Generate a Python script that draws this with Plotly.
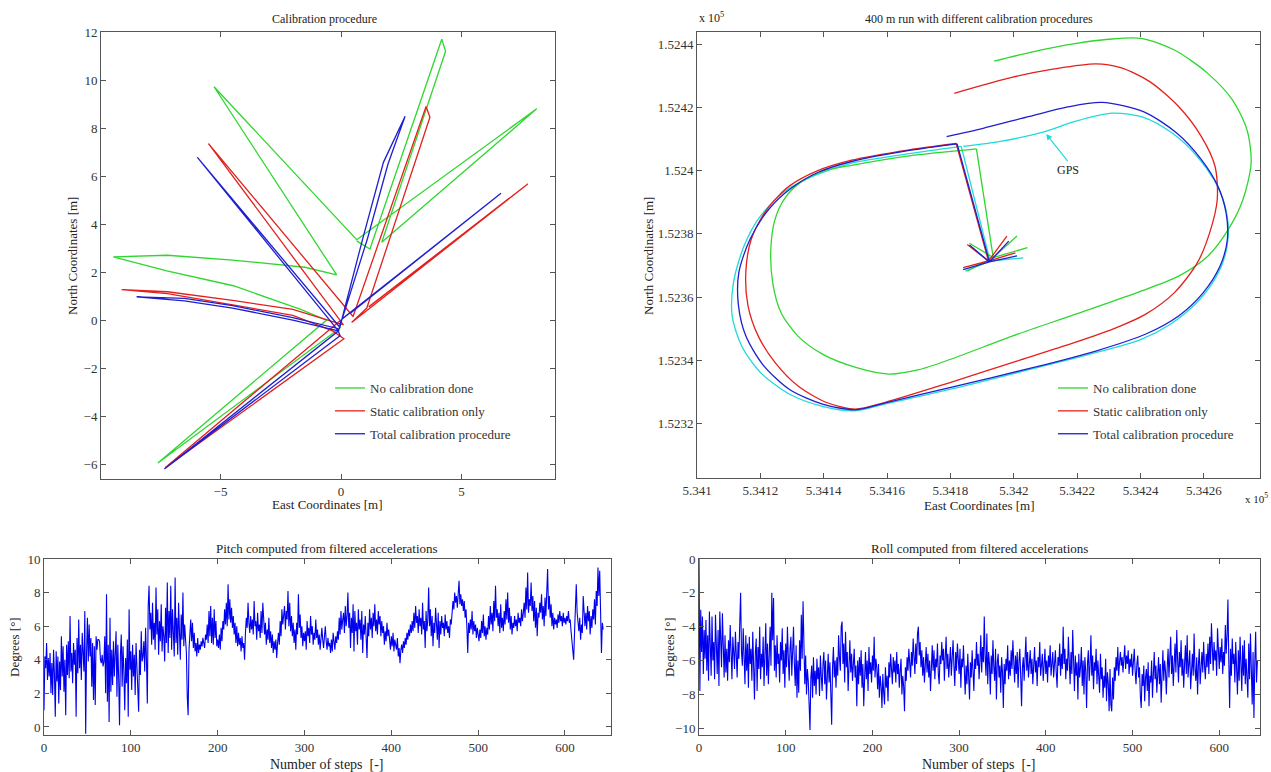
import plotly.graph_objects as go

W, H = 1271, 772
FONT = "Liberation Serif"
GREEN = "#2fd62f"
RED = "#e3201c"
BLUE = "#1f1fd0"
CYAN = "#1fdada"
TS_BLUE = "#0000ee"

# ---------------- Top-left: Calibration procedure (metres) ----------------
cal_green_e = [0.0, -7.6, -0.6, -1.7, -4.47, -7.23, -9.45, -7.2, -4.5, -1.5, -0.18,
               -5.27, 0.65, 8.12, 1.69, 4.34, 4.18, 1.2, 0.65]
cal_green_n = [-0.3, -5.95, 0.0, 0.46, 1.43, 2.05, 2.63, 2.7, 2.5, 2.2, 1.88,
               9.72, 3.35, 8.8, 3.24, 11.2, 11.7, 2.96, 3.3]

cal_red_e = [0.0, -7.3, 0.12, -0.35, -2.0, -4.5, -7.2, -9.1, -7.2, -4.5, -2.0, 0.1,
             -5.5, 0.5, 3.53, 3.69, 1.07, 0.44, 7.75, 1.15]
cal_red_n = [0.0, -6.15, -0.78, -0.45, 0.2, 0.62, 1.1, 1.27, 1.18, 0.82, 0.45, -0.2,
             7.35, 0.15, 8.9, 8.45, 0.5, -0.1, 5.67, 0.55]

cal_blue_e = [0.0, -0.1, -7.33, -0.04, -0.15, -2.0, -4.5, -6.5, -8.48, -6.5, -4.5,
              -2.0, -0.11, -5.96, -0.05, 0.93, 1.76, 2.66, 1.95, 1.1, 0.05, 6.64, 0.4]
cal_blue_n = [0.0, -0.45, -6.2, -0.65, -0.35, 0.1, 0.6, 0.9, 0.97, 0.8, 0.5,
              0.0, -0.45, 6.78, -0.3, 3.5, 6.57, 8.49, 6.5, 3.4, 0.05, 5.28, 0.3]

# ---------------- Top-right: 400 m run (East / North, metres) ----------------
# first 10 points: start-up star and the walk to the track; the rest: the lap
run_green_e = [534193.5, 534201.0, 534193.5, 534204.3, 534193.5, 534185.3, 534193.5,
               534186.0, 534193.5,
               534188.2, 534167.0, 534148.8, 534139.6, 534133.1, 534127.8, 534124.6,
               534123.3, 534123.9, 534126.5, 534131.8, 534139.6, 534150.1, 534160.5,
               534169.7, 534180.1, 534199.7, 534219.3, 534238.9, 534252.0, 534261.2,
               534267.7, 534272.3, 534274.9, 534273.6, 534269.0, 534261.2, 534250.7,
               534240.2, 534229.8, 534219.3, 534206.3, 534193.8]
run_green_n = [152372.5, 152379.3, 152372.5, 152375.6, 152372.5, 152368.2, 152372.5,
               152377.0, 152372.5,
               152406.9, 152404.7, 152401.7, 152399.8, 152396.6, 152391.4, 152384.5,
               152375.1, 152364.5, 152355.1, 152347.7, 152341.9, 152337.7, 152335.6,
               152336.9, 152340.3, 152347.7, 152354.5, 152361.4, 152366.6, 152372.9,
               152381.4, 152390.8, 152402.4, 152412.9, 152422.4, 152430.8, 152438.2,
               152441.9, 152441.6, 152440.2, 152437.7, 152434.7]

run_red_e = [534192.0, 534185.3, 534192.0, 534197.8, 534192.0, 534184.0, 534192.0,
             534200.5, 534192.0,
             534181.8, 534167.0, 534148.8, 534137.6, 534129.1, 534122.0, 534117.1,
             534115.4, 534116.1, 534119.3, 534124.6, 534131.8, 534140.9, 534150.1,
             534159.2, 534180.1, 534199.7, 534219.3, 534232.4, 534241.5, 534250.7,
             534257.9, 534261.8, 534264.2, 534263.5, 534259.2, 534252.0, 534242.9,
             534233.7, 534225.9, 534212.8, 534199.7, 534181.2]
run_red_n = [152371.4, 152376.6, 152371.4, 152379.3, 152371.4, 152369.3, 152371.4,
             152374.0, 152371.4,
             152408.6, 152406.6, 152403.3, 152399.8, 152395.1, 152387.7, 152378.2,
             152367.7, 152357.2, 152347.7, 152339.3, 152331.9, 152326.6, 152324.5,
             152326.6, 152333.0, 152339.3, 152345.6, 152350.3, 152354.5, 152361.4,
             152370.8, 152380.3, 152390.8, 152401.4, 152410.8, 152420.3, 152428.2,
             152432.6, 152433.8, 152432.2, 152429.6, 152424.5]

run_blue_e = [534192.3, 534198.4, 534192.3, 534201.0, 534192.3, 534184.0, 534192.3,
              534186.0, 534192.3,
              534182.1, 534167.0, 534148.8, 534138.3, 534129.8, 534122.6, 534116.7,
              534113.2, 534113.1, 534115.4, 534120.7, 534129.1, 534139.6, 534150.1,
              534159.2, 534180.1, 534206.3, 534225.9, 534241.5, 534252.0, 534259.8,
              534265.1, 534267.4, 534267.0, 534264.4, 534259.2, 534251.4, 534240.9,
              534227.8, 534216.7, 534205.0, 534190.6, 534178.8]
run_blue_n = [152371.1, 152377.7, 152371.1, 152373.0, 152371.1, 152368.7, 152371.1,
              152376.5, 152371.1,
              152408.5, 152406.4, 152402.9, 152399.5, 152394.5, 152387.7, 152378.2,
              152367.7, 152357.2, 152347.7, 152338.7, 152330.8, 152326.1, 152324.3,
              152326.4, 152331.4, 152337.7, 152342.9, 152348.2, 152354.0, 152361.4,
              152369.8, 152378.2, 152386.6, 152395.1, 152403.5, 152411.9, 152418.7,
              152421.6, 152420.1, 152417.2, 152413.5, 152410.8]
RUN_START = 9

# first 6 points: start-up star and walk to the track; the rest: the lap
gps_e = [534192.5, 534203.0, 534192.5, 534184.7, 534192.5, 534183.4, 534167.0,
         534148.8, 534137.0, 534127.8, 534120.0, 534114.8, 534111.5, 534111.1,
         534114.1, 534120.0, 534129.1, 534139.6, 534150.1, 534159.2, 534180.1,
         534206.3, 534225.9, 534240.2, 534249.4, 534257.2, 534263.1, 534266.6,
         534267.7, 534266.4, 534263.1, 534257.9, 534250.0, 534240.9, 534231.1,
         534219.3, 534208.9, 534195.8, 534184.0]
gps_n = [152371.4, 152372.4, 152371.4, 152368.2, 152371.4, 152407.7, 152405.4,
         152402.4, 152398.4, 152393.5, 152385.6, 152376.1, 152364.5, 152354.0,
         152344.5, 152336.1, 152329.3, 152325.4, 152324.0, 152326.1, 152330.8,
         152337.4, 152342.4, 152346.6, 152351.4, 152357.7, 152365.1, 152372.9,
         152381.4, 152389.8, 152397.2, 152404.5, 152411.9, 152416.9, 152418.2,
         152415.6, 152412.1, 152409.3, 152407.7]
GPS_START = 5

run_xtick_vals = [534100, 534120, 534140, 534160, 534180, 534200, 534220, 534240, 534260]
run_xtick_text = ["5.341", "5.3412", "5.3414", "5.3416", "5.3418", "5.342", "5.3422", "5.3424", "5.3426"]
run_ytick_vals = [152320, 152340, 152360, 152380, 152400, 152420, 152440]
run_ytick_text = ["1.5232", "1.5234", "1.5236", "1.5238", "1.524", "1.5242", "1.5244"]

# ---------------- Bottom: pitch and roll (degrees) per step ----------------
pitch = [
    1.0, 4.2, 3.5, 5.0, 2.8, 4.1, 3.0, 4.4, 2.0, 3.8,
    1.9, 4.6, 3.2, 0.6, 4.5, 2.7, 4.2, 1.4, 3.9, 2.2,
    5.4, 3.0, 4.8, 2.1, 4.0, 0.7, 4.9, 3.1, 5.1, 2.9,
    6.6, 3.3, 4.4, 2.6, 5.0, 3.7, 4.6, 0.6, 5.3, 3.2,
    6.4, 3.5, 4.9, 2.8, 5.6, 4.0, 3.3, 6.9, -0.4, 4.4,
    6.5, 3.9, 6.1, 4.2, 5.3, 2.4, 5.0, 1.6, 4.8, 1.3,
    5.4, 4.6, 5.2, 5.2, 5.1, 4.0, 3.8, 4.3, 3.6, 3.9,
    5.4, 2.0, 7.9, 1.5, 4.9, 0.3, 6.5, 2.1, 4.6, 2.5,
    5.1, 3.0, 4.4, 5.7, 1.8, 4.9, 2.9, 0.1, 4.3, 5.5,
    2.4, 4.8, 3.3, 1.0, 4.1, 2.6, 5.2, 0.6, 7.0, 3.4,
    4.5, 2.2, 4.9, 3.0, 4.3, 1.9, 5.0, 3.6, 2.7, 0.9,
    4.6, 3.1, 5.7, 3.9, 4.2, 5.1, 3.3, 5.9, 4.0, 1.4,
    7.2, 8.4, 5.8, 6.8, 4.9, 7.4, 5.2, 6.2, 4.6, 8.3,
    5.5, 7.0, 4.3, 6.3, 5.1, 7.3, 4.5, 6.0, 5.4, 3.9,
    7.1, 5.0, 8.6, 4.4, 6.9, 5.3, 8.4, 4.6, 7.0, 5.6,
    4.2, 8.9, 5.0, 6.5, 4.3, 7.4, 5.4, 4.0, 6.7, 5.2,
    8.0, 4.8, 6.1, 5.0, 4.4, 1.8, 0.7, 4.6, 5.9, 6.4,
    5.1, 6.2, 4.7, 5.6, 4.5, 5.0, 4.2, 5.3, 4.4, 4.9,
    4.6, 5.1, 4.8, 5.3, 5.0, 4.7, 5.5, 5.2, 6.1, 5.0,
    6.9, 5.4, 7.2, 5.0, 6.5, 4.9, 7.0, 5.3, 6.3, 4.8,
    5.2, 4.7, 5.5, 4.6, 5.9, 5.1, 6.3, 5.8, 7.0, 6.1,
    7.4, 6.0, 8.5, 6.4, 7.6, 6.2, 7.1, 5.9, 6.6, 5.5,
    6.2, 5.0, 6.0, 4.8, 5.6, 4.9, 5.3, 4.5, 5.4, 4.7,
    5.0, 4.0, 5.6, 6.5, 5.9, 7.4, 6.2, 5.6, 6.6, 5.8,
    6.4, 5.5, 7.5, 6.0, 6.3, 5.2, 6.8, 5.7, 6.1, 5.3,
    6.9, 5.6, 7.4, 6.0, 5.5, 6.2, 4.9, 5.8, 5.2, 6.5,
    5.0, 5.7, 4.7, 5.5, 4.4, 5.1, 4.6, 5.2, 4.1, 5.0,
    5.6, 4.9, 6.3, 5.4, 7.0, 6.1, 6.6, 7.2, 5.8, 6.9,
    6.4, 8.1, 6.0, 7.4, 5.7, 6.6, 5.4, 6.2, 5.0, 5.8,
    4.6, 6.2, 5.5, 7.9, 5.9, 6.7, 5.3, 6.0, 4.8, 5.6,
    5.1, 5.7, 4.6, 6.3, 5.4, 5.9, 5.0, 6.6, 5.5, 6.0,
    4.9, 5.6, 5.2, 6.4, 5.3, 5.8, 4.9, 5.5, 4.6, 5.1,
    5.9, 5.2, 4.7, 5.4, 6.0, 5.1, 4.6, 5.3, 4.8, 5.0,
    4.4, 5.2, 4.5, 5.6, 4.9, 4.6, 5.4, 5.0, 5.7, 5.2,
    6.5, 5.5, 6.9, 5.8, 6.4, 6.8, 5.6, 7.2, 6.0, 6.6,
    8.0, 5.9, 6.8, 4.7, 6.5, 5.6, 7.3, 4.5, 6.9, 5.7,
    6.2, 4.9, 7.0, 5.8, 6.4, 5.2, 6.9, 4.4, 6.1, 5.5,
    6.6, 5.0, 4.1, 6.2, 5.4, 7.0, 5.8, 6.5, 5.3, 6.8,
    6.0, 7.3, 5.7, 6.4, 5.5, 6.9, 6.1, 6.6, 5.4, 6.3,
    5.6, 6.0, 4.9, 5.7, 5.1, 6.2, 5.4, 5.8, 5.0, 4.6,
    5.4, 4.8, 5.6, 4.5, 5.2, 4.9, 4.6, 5.3, 4.2, 4.7,
    3.8, 4.6, 4.9, 4.4, 5.1, 4.7, 5.3, 4.9, 5.6, 5.2,
    5.8, 5.4, 6.1, 5.6, 6.3, 5.7, 6.8, 5.9, 7.2, 6.2,
    6.6, 5.6, 7.0, 6.0, 6.5, 5.5, 7.4, 5.8, 6.3, 4.7,
    6.9, 5.7, 6.4, 8.3, 6.0, 7.0, 5.4, 6.6, 4.8, 6.2,
    5.6, 7.1, 6.0, 5.2, 6.8, 4.7, 6.3, 5.5, 6.6, 5.9,
    6.2, 5.4, 6.7, 5.8, 6.3, 5.6, 6.0, 5.3, 6.4, 6.1,
    6.8, 7.5, 7.0, 8.0, 7.4, 7.8, 7.1, 8.3, 8.7, 7.3,
    7.9, 7.2, 7.6, 6.9, 7.5, 6.5, 7.0, 6.0, 4.4, 6.2,
    5.6, 6.4, 5.8, 6.9, 5.5, 6.3, 5.7, 6.1, 5.3, 5.9,
    5.5, 5.1, 5.8, 5.3, 6.3, 5.6, 6.7, 5.4, 6.0, 5.2,
    5.9, 5.5, 6.6, 5.8, 7.2, 6.1, 6.8, 5.7, 7.5, 6.3,
    8.4, 6.5, 7.0, 6.0, 6.8, 5.6, 7.3, 5.9, 6.5, 5.7,
    6.9, 6.1, 7.6, 6.4, 8.0, 6.2, 7.1, 5.8, 6.6, 5.5,
    6.2, 5.9, 6.6, 6.0, 6.4, 5.7, 6.8, 6.2, 6.5, 6.0,
    7.0, 6.3, 6.8, 7.4, 6.5, 8.3, 7.0, 9.2, 6.8, 7.6,
    7.2, 8.6, 6.9, 7.8, 6.3, 7.5, 5.9, 7.1, 5.4, 6.8,
    6.5, 7.4, 6.8, 7.9, 6.4, 7.2, 6.0, 7.7, 6.6, 8.2,
    9.4, 7.0, 7.8, 6.5, 7.3, 6.0, 6.8, 5.8, 6.5, 6.1,
    6.4, 5.9, 6.7, 6.2, 6.9, 6.3, 6.6, 6.0, 6.8, 6.2,
    6.5, 6.1, 6.6, 6.3, 6.9, 6.2, 6.4, 5.7, 5.0, 4.2,
    4.0, 5.6, 7.0, 8.5, 6.8, 6.2, 5.7, 6.5, 5.2, 6.1,
    5.6, 7.8, 6.4, 6.0, 6.8, 5.8, 7.2, 6.3, 6.9, 5.5,
    6.6, 5.9, 7.0, 6.4, 7.6, 6.1, 8.1, 7.2, 9.5, 7.8,
    9.3, 6.5, 4.4, 6.2, 5.8,
]

roll = [
    0.0, -7.8, -3.0, -5.5, -3.4, -6.8, -4.2, -5.9, -3.6, -6.6,
    -4.5, -7.2, -3.1, -5.8, -6.9, -3.4, -6.0, -4.9, -7.1, -3.3,
    -5.6, -6.8, -4.2, -7.5, -3.1, -5.9, -6.4, -3.2, -6.1, -7.0,
    -4.5, -6.7, -5.3, -7.2, -4.8, -6.1, -3.9, -5.4, -7.1, -4.6,
    -5.8, -6.5, -4.3, -5.6, -7.0, -4.9, -5.9, -3.8, -2.0, -5.5,
    -6.3, -4.1, -5.7, -7.4, -4.5, -6.6, -5.0, -7.6, -4.6, -6.2,
    -5.3, -7.2, -4.3, -6.0, -8.3, -5.5, -4.7, -7.8, -5.2, -6.5,
    -4.0, -7.1, -5.6, -6.4, -4.6, -7.5, -5.9, -3.8, -6.9, -5.0,
    -7.4, -5.5, -4.0, -6.3, -2.0, -4.8, -2.3, -6.6, -5.1, -7.0,
    -4.5, -6.2, -5.6, -7.3, -4.9, -6.0, -4.1, -6.8, -5.4, -7.6,
    -5.0, -6.4, -4.0, -5.8, -7.2, -5.3, -4.6, -6.9, -5.5, -4.0,
    -6.2, -7.5, -5.1, -8.2, -6.0, -7.9, -4.8, -6.6, -3.3, -5.9,
    -2.5, -6.1, -7.4, -5.7, -8.0, -6.5, -7.2, -8.6, -10.1, -7.0,
    -6.3, -8.2, -5.8, -7.5, -6.6, -8.0, -5.9, -7.1, -6.4, -8.1,
    -5.7, -6.9, -7.8, -6.2, -5.5, -7.4, -6.0, -8.3, -6.7, -5.6,
    -7.3, -6.1, -7.9, -9.8, -6.4, -5.2, -7.0, -6.0, -7.6, -5.8,
    -6.9, -4.5, -5.8, -6.6, -4.0, -3.7, -6.2, -5.0, -7.3, -4.3,
    -6.4, -5.5, -7.8, -5.9, -4.8, -6.7, -5.6, -7.2, -6.1, -5.3,
    -7.0, -6.3, -8.7, -6.0, -7.4, -5.8, -6.9, -5.4, -7.6, -6.2,
    -8.7, -6.5, -5.5, -7.1, -6.0, -7.8, -5.2, -6.8, -6.1, -7.3,
    -5.7, -6.6, -4.6, -7.0, -5.9, -6.4, -7.7, -6.2, -8.2, -6.9,
    -7.5, -8.8, -6.8, -7.9, -8.6, -6.4, -7.6, -6.9, -8.4, -6.1,
    -7.0, -5.6, -6.5, -7.4, -5.8, -6.7, -6.0, -7.3, -5.5, -6.8,
    -6.2, -7.6, -6.6, -5.9, -8.0, -6.9, -7.5, -9.0, -6.4, -7.2,
    -5.8, -6.6, -5.3, -6.1, -7.0, -5.5, -6.3, -4.7, -5.9, -6.8,
    -5.0, -6.2, -4.4, -4.0, -5.7, -4.9, -6.4, -5.4, -6.9, -5.8,
    -7.3, -6.1, -5.2, -6.7, -5.6, -7.0, -6.0, -7.8, -6.3, -5.1,
    -6.6, -5.4, -7.1, -5.9, -6.4, -5.0, -6.8, -7.4, -5.7, -6.2,
    -4.9, -6.0, -5.3, -7.2, -5.8, -4.6, -6.5, -5.6, -7.0, -6.1,
    -5.2, -6.9, -5.7, -4.8, -6.3, -7.5, -5.5, -6.6, -5.0, -6.2,
    -6.8, -5.3, -7.6, -5.9, -6.4, -5.1, -7.2, -8.0, -6.3, -7.4,
    -5.6, -6.9, -8.3, -6.1, -7.0, -5.4, -6.6, -7.8, -5.9, -6.5,
    -4.9, -6.3, -5.6, -7.1, -6.0, -4.5, -6.7, -5.2, -6.1, -3.4,
    -5.8, -6.9, -4.4, -7.4, -5.5, -6.2, -8.0, -5.7, -6.8, -4.8,
    -6.4, -7.2, -5.3, -8.3, -6.1, -5.6, -7.0, -6.3, -7.9, -5.8,
    -6.7, -8.8, -6.2, -7.4, -5.9, -6.6, -5.1, -7.1, -6.0, -6.9,
    -5.4, -6.5, -4.8, -6.2, -7.3, -5.7, -6.8, -5.5, -7.6, -6.1,
    -5.3, -6.9, -8.7, -6.4, -5.8, -7.2, -6.0, -4.6, -6.6, -5.5,
    -7.0, -6.2, -5.4, -6.8, -5.9, -7.4, -6.3, -5.2, -6.7, -6.0,
    -7.5, -5.8, -6.4, -4.9, -6.9, -6.1, -5.6, -7.2, -6.5, -5.3,
    -6.8, -6.0, -7.3, -5.7, -6.4, -5.1, -6.9, -6.2, -5.5, -7.0,
    -6.1, -5.4, -6.7, -7.6, -5.8, -6.3, -5.0, -6.9, -5.6, -6.5,
    -4.0, -6.2, -5.3, -7.1, -5.9, -6.6, -4.6, -6.0, -7.4, -5.5,
    -6.8, -4.2, -6.3, -7.8, -5.7, -6.9, -6.1, -8.3, -5.6, -7.0,
    -6.4, -5.2, -7.5, -6.0, -8.0, -5.8, -6.6, -8.8, -6.2, -5.4,
    -7.2, -6.3, -4.5, -6.9, -5.7, -7.7, -6.1, -6.6, -5.3, -7.4,
    -6.0, -6.8, -7.9, -5.6, -7.1, -6.4, -8.2, -6.9, -7.6, -5.9,
    -8.4, -6.7, -7.3, -9.0, -6.5, -8.6, -9.0, -7.0, -8.3, -6.4,
    -7.2, -5.8, -6.6, -5.2, -6.9, -6.1, -5.5, -6.3, -5.8, -6.7,
    -6.0, -5.1, -6.5, -5.7, -6.2, -5.4, -6.8, -5.9, -6.4, -5.6,
    -6.9, -6.1, -5.3, -6.6, -7.4, -6.2, -5.7, -7.0, -6.4, -8.1,
    -8.8, -6.8, -7.5, -6.3, -8.4, -7.0, -6.5, -7.8, -6.1, -8.7,
    -6.9, -7.3, -6.0, -8.2, -6.6, -5.5, -7.1, -6.3, -7.9, -6.8,
    -5.8, -7.4, -6.2, -8.5, -6.9, -5.4, -7.2, -6.0, -6.6, -8.0,
    -6.4, -5.3, -7.0, -6.1, -4.6, -6.8, -5.7, -7.5, -6.3, -5.0,
    -6.7, -4.2, -6.0, -7.3, -5.5, -6.4, -4.8, -6.9, -5.9, -7.6,
    -6.2, -5.1, -6.8, -4.5, -7.0, -6.1, -5.4, -7.7, -6.3, -5.6,
    -6.9, -4.4, -6.5, -7.2, -5.8, -8.0, -6.2, -5.3, -7.4, -6.0,
    -5.5, -6.7, -4.9, -6.3, -7.1, -5.6, -6.4, -5.0, -6.8, -4.6,
    -6.2, -3.8, -5.7, -6.6, -4.9, -6.0, -5.4, -6.9, -4.1, -5.8,
    -6.5, -5.2, -6.1, -4.7, -6.8, -5.5, -6.3, -3.9, -5.6, -4.5,
    -2.4, -6.0, -8.8, -5.3, -6.9, -4.7, -6.2, -5.6, -7.3, -4.9,
    -6.6, -8.0, -5.4, -7.2, -4.6, -6.5, -7.8, -5.1, -6.9, -4.8,
    -7.4, -5.9, -6.7, -8.2, -5.0, -7.1, -4.4, -6.3, -8.6, -5.5,
    -9.4, -6.1, -4.3, -7.3, -6.0,
]
pitch_steps = list(range(len(pitch)))
roll_steps = list(range(len(roll)))

LEGEND_NAMES = ["No calibration done", "Static calibration only", "Total calibration procedure"]

fig = go.Figure()

# Top-left traces
for i, (xs, ys, col) in enumerate([(cal_green_e, cal_green_n, GREEN),
                                   (cal_red_e, cal_red_n, RED),
                                   (cal_blue_e, cal_blue_n, BLUE)]):
    fig.add_trace(go.Scatter(x=xs, y=ys, mode="lines", line=dict(color=col, width=1.3),
                             name=LEGEND_NAMES[i], xaxis="x", yaxis="y",
                             legend="legend", legendgroup="a%d" % i))

# Top-right traces: start-up part straight, lap part smoothed
fig.add_trace(go.Scatter(x=gps_e[:GPS_START + 1], y=gps_n[:GPS_START + 1], mode="lines",
                         line=dict(color=CYAN, width=1.3), showlegend=False,
                         xaxis="x2", yaxis="y2"))
fig.add_trace(go.Scatter(x=gps_e[GPS_START:], y=gps_n[GPS_START:], mode="lines",
                         line=dict(color=CYAN, width=1.3, shape="spline", smoothing=0.8),
                         name="GPS", showlegend=False, xaxis="x2", yaxis="y2"))
for i, (xs, ys, col) in enumerate([(run_green_e, run_green_n, GREEN),
                                   (run_red_e, run_red_n, RED),
                                   (run_blue_e, run_blue_n, BLUE)]):
    fig.add_trace(go.Scatter(x=xs[:RUN_START + 1], y=ys[:RUN_START + 1], mode="lines",
                             line=dict(color=col, width=1.3), showlegend=False,
                             xaxis="x2", yaxis="y2", legendgroup="b%d" % i))
    fig.add_trace(go.Scatter(x=xs[RUN_START:], y=ys[RUN_START:], mode="lines",
                             line=dict(color=col, width=1.3, shape="spline", smoothing=0.8),
                             name=LEGEND_NAMES[i], xaxis="x2", yaxis="y2",
                             legend="legend2", legendgroup="b%d" % i))

# Bottom traces
fig.add_trace(go.Scatter(x=pitch_steps, y=pitch, mode="lines", line=dict(color=TS_BLUE, width=1.1),
                         showlegend=False, xaxis="x3", yaxis="y3"))
fig.add_trace(go.Scatter(x=roll_steps, y=roll, mode="lines", line=dict(color=TS_BLUE, width=1.1),
                         showlegend=False, xaxis="x4", yaxis="y4"))

tickfont = dict(family=FONT, size=13, color="#333")
base = dict(showline=True, linecolor="#555", linewidth=1, mirror="ticks", ticks="inside",
            ticklen=5, tickcolor="#555", showgrid=False, zeroline=False, tickfont=tickfont,
            fixedrange=True, automargin=False)

def px(xp):
    return xp / W

def py(yp):
    return 1 - yp / H

fig.update_layout(
    width=W, height=H, margin=dict(l=0, r=0, t=0, b=0, autoexpand=False),
    paper_bgcolor="white", plot_bgcolor="white",
    font=dict(family=FONT, size=12, color="#333"),
    xaxis=dict(base, domain=[px(101), px(555)], range=[-9.96, 8.88], anchor="y",
               tickvals=[-5, 0, 5]),
    yaxis=dict(base, domain=[py(479), py(32)], range=[-6.62, 12], anchor="x",
               tickvals=[-6, -4, -2, 0, 2, 4, 6, 8, 10, 12]),
    xaxis2=dict(base, domain=[px(697), px(1260)], range=[534100, 534277.7], anchor="y2",
                tickvals=run_xtick_vals, ticktext=run_xtick_text),
    yaxis2=dict(base, domain=[py(478), py(32)], range=[152302.7, 152443.9], anchor="x2",
                tickvals=run_ytick_vals, ticktext=run_ytick_text),
    xaxis3=dict(base, domain=[px(44), px(611)], range=[0, 653], anchor="y3",
                tickvals=[0, 100, 200, 300, 400, 500, 600]),
    yaxis3=dict(base, domain=[py(735), py(559)], range=[-0.48, 10], anchor="x3",
                tickvals=[0, 2, 4, 6, 8, 10]),
    xaxis4=dict(base, domain=[px(699), px(1260)], range=[0, 647], anchor="y4",
                tickvals=[0, 100, 200, 300, 400, 500, 600]),
    yaxis4=dict(base, domain=[py(735), py(559)], range=[-10.4, 0], anchor="x4",
                tickvals=[-10, -8, -6, -4, -2, 0]),
    legend=dict(x=px(330), y=py(373), xanchor="left", yanchor="top",
                bgcolor="rgba(0,0,0,0)", font=dict(family=FONT, size=13, color="#333"),
                traceorder="grouped", tracegroupgap=3, itemwidth=30),
    legend2=dict(x=px(1053), y=py(373), xanchor="left", yanchor="top",
                 bgcolor="rgba(0,0,0,0)", font=dict(family=FONT, size=13, color="#333"),
                 traceorder="grouped", tracegroupgap=3, itemwidth=30),
)

ann = []
def text(x, y, s, size=12, angle=0, xanchor="center", yanchor="middle"):
    ann.append(dict(x=px(x), y=py(y), xref="paper", yref="paper", text=s, showarrow=False,
                    font=dict(family=FONT, size=size, color="#222"), textangle=angle,
                    xanchor=xanchor, yanchor=yanchor))

text(325, 19, "Calibration procedure", 12)
text(979, 19, "400 m run with different calibration procedures", 12)
text(327, 548, "Pitch computed from filtered accelerations", 13)
text(979, 548, "Roll computed from filtered accelerations", 13)
text(327, 504, "East Coordinates [m]", 13)
text(979, 505, "East Coordinates [m]", 13)
text(72, 256, "North Coordinates [m]", 13, -90)
text(648, 256, "North Coordinates [m]", 13, -90)
text(14, 647, "Degrees [°]", 13, -90)
text(669, 647, "Degrees [°]", 13, -90)
text(327, 764, "Number of steps  [-]", 14)
text(979, 764, "Number of steps  [-]", 14)
text(697, 18, "x 10<sup>5</sup>", 12, xanchor="left")
text(1270, 498, "x 10<sup>5</sup>", 11, xanchor="right")

ann.append(dict(x=534210.2, y=152411.6, xref="x2", yref="y2", ax=534217.0, ay=152403.0,
                axref="x2", ayref="y2", text="GPS", showarrow=True, arrowhead=2,
                arrowsize=1, arrowwidth=1.2, arrowcolor=CYAN,
                font=dict(family=FONT, size=12, color="#222"), yanchor="top"))

fig.update_layout(annotations=ann)

fig.write_html("out.html")
